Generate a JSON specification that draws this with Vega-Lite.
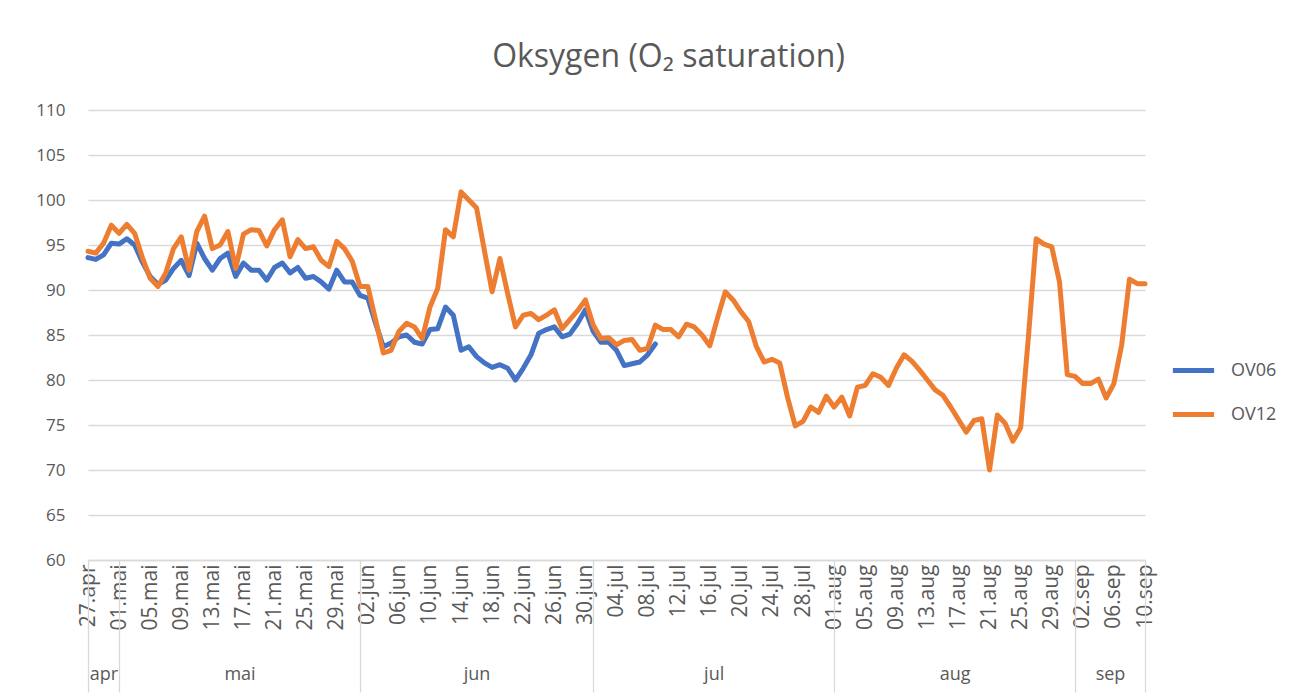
{
  "$schema": "https://vega.github.io/schema/vega-lite/v6.json",
  "width": 1057,
  "height": 450,
  "autosize": {"type": "none"},
  "padding": {"left": 88, "top": 110, "right": 171, "bottom": 136},
  "background": "white",
  "title": {
    "text": "Oksygen (O₂ saturation)",
    "font": "Open Sans",
    "fontSize": 32,
    "fontWeight": "normal",
    "color": "#595959",
    "anchor": "middle",
    "frame": "group",
    "dx": 52,
    "baseline": "alphabetic",
    "offset": 2
  },
  "config": {"view": {"stroke": null}, "font": "Open Sans"},
  "resolve": {"axis": {"x": "independent"}},
  "layer": [
    {
      "data": {"values": [
        {"d":"2021-04-27","OV06":93.6,"OV12":94.3},
        {"d":"2021-04-28","OV06":93.4,"OV12":94.1},
        {"d":"2021-04-29","OV06":93.9,"OV12":95.2},
        {"d":"2021-04-30","OV06":95.2,"OV12":97.2},
        {"d":"2021-05-01","OV06":95.1,"OV12":96.3},
        {"d":"2021-05-02","OV06":95.7,"OV12":97.3},
        {"d":"2021-05-03","OV06":95.0,"OV12":96.3},
        {"d":"2021-05-04","OV06":93.1,"OV12":93.6},
        {"d":"2021-05-05","OV06":91.5,"OV12":91.3},
        {"d":"2021-05-06","OV06":90.6,"OV12":90.4},
        {"d":"2021-05-07","OV06":91.1,"OV12":91.9},
        {"d":"2021-05-08","OV06":92.4,"OV12":94.6},
        {"d":"2021-05-09","OV06":93.3,"OV12":95.9},
        {"d":"2021-05-10","OV06":91.6,"OV12":92.2},
        {"d":"2021-05-11","OV06":95.2,"OV12":96.5},
        {"d":"2021-05-12","OV06":93.5,"OV12":98.2},
        {"d":"2021-05-13","OV06":92.2,"OV12":94.6},
        {"d":"2021-05-14","OV06":93.5,"OV12":95.0},
        {"d":"2021-05-15","OV06":94.1,"OV12":96.5},
        {"d":"2021-05-16","OV06":91.5,"OV12":92.4},
        {"d":"2021-05-17","OV06":93.0,"OV12":96.2},
        {"d":"2021-05-18","OV06":92.2,"OV12":96.7},
        {"d":"2021-05-19","OV06":92.2,"OV12":96.6},
        {"d":"2021-05-20","OV06":91.1,"OV12":94.9},
        {"d":"2021-05-21","OV06":92.5,"OV12":96.7},
        {"d":"2021-05-22","OV06":93.0,"OV12":97.8},
        {"d":"2021-05-23","OV06":91.9,"OV12":93.7},
        {"d":"2021-05-24","OV06":92.5,"OV12":95.6},
        {"d":"2021-05-25","OV06":91.3,"OV12":94.6},
        {"d":"2021-05-26","OV06":91.5,"OV12":94.8},
        {"d":"2021-05-27","OV06":90.9,"OV12":93.3},
        {"d":"2021-05-28","OV06":90.1,"OV12":92.6},
        {"d":"2021-05-29","OV06":92.2,"OV12":95.4},
        {"d":"2021-05-30","OV06":90.9,"OV12":94.6},
        {"d":"2021-05-31","OV06":90.9,"OV12":93.2},
        {"d":"2021-06-01","OV06":89.4,"OV12":90.4},
        {"d":"2021-06-02","OV06":89.1,"OV12":90.4},
        {"d":"2021-06-03","OV06":86.3,"OV12":86.7},
        {"d":"2021-06-04","OV06":83.7,"OV12":83.0},
        {"d":"2021-06-05","OV06":84.1,"OV12":83.3},
        {"d":"2021-06-06","OV06":84.8,"OV12":85.4},
        {"d":"2021-06-07","OV06":85.0,"OV12":86.3},
        {"d":"2021-06-08","OV06":84.2,"OV12":85.9},
        {"d":"2021-06-09","OV06":84.0,"OV12":84.6},
        {"d":"2021-06-10","OV06":85.6,"OV12":88.1},
        {"d":"2021-06-11","OV06":85.7,"OV12":90.2},
        {"d":"2021-06-12","OV06":88.1,"OV12":96.7},
        {"d":"2021-06-13","OV06":87.2,"OV12":95.9},
        {"d":"2021-06-14","OV06":83.3,"OV12":100.9},
        {"d":"2021-06-15","OV06":83.7,"OV12":100.0},
        {"d":"2021-06-16","OV06":82.6,"OV12":99.1},
        {"d":"2021-06-17","OV06":81.9,"OV12":94.4},
        {"d":"2021-06-18","OV06":81.4,"OV12":89.8},
        {"d":"2021-06-19","OV06":81.7,"OV12":93.5},
        {"d":"2021-06-20","OV06":81.3,"OV12":89.6},
        {"d":"2021-06-21","OV06":80.0,"OV12":85.9},
        {"d":"2021-06-22","OV06":81.3,"OV12":87.2},
        {"d":"2021-06-23","OV06":82.8,"OV12":87.4},
        {"d":"2021-06-24","OV06":85.2,"OV12":86.7},
        {"d":"2021-06-25","OV06":85.6,"OV12":87.2},
        {"d":"2021-06-26","OV06":85.9,"OV12":87.8},
        {"d":"2021-06-27","OV06":84.8,"OV12":85.7},
        {"d":"2021-06-28","OV06":85.1,"OV12":86.7},
        {"d":"2021-06-29","OV06":86.3,"OV12":87.7},
        {"d":"2021-06-30","OV06":87.8,"OV12":88.9},
        {"d":"2021-07-01","OV06":85.4,"OV12":86.1},
        {"d":"2021-07-02","OV06":84.2,"OV12":84.6},
        {"d":"2021-07-03","OV06":84.2,"OV12":84.7},
        {"d":"2021-07-04","OV06":83.3,"OV12":83.9},
        {"d":"2021-07-05","OV06":81.6,"OV12":84.4},
        {"d":"2021-07-06","OV06":81.8,"OV12":84.5},
        {"d":"2021-07-07","OV06":82.0,"OV12":83.3},
        {"d":"2021-07-08","OV06":82.8,"OV12":83.5},
        {"d":"2021-07-09","OV06":84.0,"OV12":86.1},
        {"d":"2021-07-10","OV12":85.6},
        {"d":"2021-07-11","OV12":85.6},
        {"d":"2021-07-12","OV12":84.8},
        {"d":"2021-07-13","OV12":86.2},
        {"d":"2021-07-14","OV12":85.9},
        {"d":"2021-07-15","OV12":85.0},
        {"d":"2021-07-16","OV12":83.8},
        {"d":"2021-07-17","OV12":86.9},
        {"d":"2021-07-18","OV12":89.8},
        {"d":"2021-07-19","OV12":88.9},
        {"d":"2021-07-20","OV12":87.6},
        {"d":"2021-07-21","OV12":86.5},
        {"d":"2021-07-22","OV12":83.7},
        {"d":"2021-07-23","OV12":82.0},
        {"d":"2021-07-24","OV12":82.3},
        {"d":"2021-07-25","OV12":81.9},
        {"d":"2021-07-26","OV12":78.1},
        {"d":"2021-07-27","OV12":74.9},
        {"d":"2021-07-28","OV12":75.4},
        {"d":"2021-07-29","OV12":77.0},
        {"d":"2021-07-30","OV12":76.4},
        {"d":"2021-07-31","OV12":78.2},
        {"d":"2021-08-01","OV12":77.0},
        {"d":"2021-08-02","OV12":78.1},
        {"d":"2021-08-03","OV12":76.0},
        {"d":"2021-08-04","OV12":79.2},
        {"d":"2021-08-05","OV12":79.4},
        {"d":"2021-08-06","OV12":80.7},
        {"d":"2021-08-07","OV12":80.3},
        {"d":"2021-08-08","OV12":79.4},
        {"d":"2021-08-09","OV12":81.3},
        {"d":"2021-08-10","OV12":82.8},
        {"d":"2021-08-11","OV12":82.1},
        {"d":"2021-08-12","OV12":81.1},
        {"d":"2021-08-13","OV12":80.0},
        {"d":"2021-08-14","OV12":78.9},
        {"d":"2021-08-15","OV12":78.3},
        {"d":"2021-08-16","OV12":77.0},
        {"d":"2021-08-17","OV12":75.6},
        {"d":"2021-08-18","OV12":74.2},
        {"d":"2021-08-19","OV12":75.5},
        {"d":"2021-08-20","OV12":75.7},
        {"d":"2021-08-21","OV12":70.0},
        {"d":"2021-08-22","OV12":76.1},
        {"d":"2021-08-23","OV12":75.2},
        {"d":"2021-08-24","OV12":73.2},
        {"d":"2021-08-25","OV12":74.7},
        {"d":"2021-08-26","OV12":84.8},
        {"d":"2021-08-27","OV12":95.7},
        {"d":"2021-08-28","OV12":95.1},
        {"d":"2021-08-29","OV12":94.8},
        {"d":"2021-08-30","OV12":90.9},
        {"d":"2021-08-31","OV12":80.6},
        {"d":"2021-09-01","OV12":80.4},
        {"d":"2021-09-02","OV12":79.6},
        {"d":"2021-09-03","OV12":79.6},
        {"d":"2021-09-04","OV12":80.1},
        {"d":"2021-09-05","OV12":78.0},
        {"d":"2021-09-06","OV12":79.6},
        {"d":"2021-09-07","OV12":83.9},
        {"d":"2021-09-08","OV12":91.2},
        {"d":"2021-09-09","OV12":90.7},
        {"d":"2021-09-10","OV12":90.7}
      ]},
      "transform": [
        {"fold": ["OV06", "OV12"], "as": ["series", "value"]},
        {"filter": "isValid(datum.value)"}
      ],
      "mark": {"type": "line", "strokeWidth": 5, "strokeCap": "round", "strokeJoin": "round"},
      "encoding": {
        "x": {
          "field": "d",
          "type": "temporal",
          "scale": {
            "type": "utc",
            "nice": false,
            "domain": [
              {"year": 2021, "month": 4, "date": 27, "utc": true},
              {"year": 2021, "month": 9, "date": 10, "utc": true}
            ]
          },
          "axis": {
            "orient": "bottom",
            "title": null,
            "grid": false,
            "ticks": false,
            "tickSize": 0,
            "domain": true,
            "domainColor": "#d9d9d9",
            "domainWidth": 1.3,
            "labelAngle": 270,
            "labelAlign": "right",
            "labelBaseline": "middle",
            "labelPadding": 4,
            "labelFont": "Open Sans",
            "labelFontSize": 21,
            "labelColor": "#595959",
            "labelOverlap": false,
            "labelFlush": false,
            "labelBound": false,
            "values": [
              {"year": 2021, "month": 4, "date": 27, "utc": true},
              {"year": 2021, "month": 5, "date": 1, "utc": true},
              {"year": 2021, "month": 5, "date": 5, "utc": true},
              {"year": 2021, "month": 5, "date": 9, "utc": true},
              {"year": 2021, "month": 5, "date": 13, "utc": true},
              {"year": 2021, "month": 5, "date": 17, "utc": true},
              {"year": 2021, "month": 5, "date": 21, "utc": true},
              {"year": 2021, "month": 5, "date": 25, "utc": true},
              {"year": 2021, "month": 5, "date": 29, "utc": true},
              {"year": 2021, "month": 6, "date": 2, "utc": true},
              {"year": 2021, "month": 6, "date": 6, "utc": true},
              {"year": 2021, "month": 6, "date": 10, "utc": true},
              {"year": 2021, "month": 6, "date": 14, "utc": true},
              {"year": 2021, "month": 6, "date": 18, "utc": true},
              {"year": 2021, "month": 6, "date": 22, "utc": true},
              {"year": 2021, "month": 6, "date": 26, "utc": true},
              {"year": 2021, "month": 6, "date": 30, "utc": true},
              {"year": 2021, "month": 7, "date": 4, "utc": true},
              {"year": 2021, "month": 7, "date": 8, "utc": true},
              {"year": 2021, "month": 7, "date": 12, "utc": true},
              {"year": 2021, "month": 7, "date": 16, "utc": true},
              {"year": 2021, "month": 7, "date": 20, "utc": true},
              {"year": 2021, "month": 7, "date": 24, "utc": true},
              {"year": 2021, "month": 7, "date": 28, "utc": true},
              {"year": 2021, "month": 8, "date": 1, "utc": true},
              {"year": 2021, "month": 8, "date": 5, "utc": true},
              {"year": 2021, "month": 8, "date": 9, "utc": true},
              {"year": 2021, "month": 8, "date": 13, "utc": true},
              {"year": 2021, "month": 8, "date": 17, "utc": true},
              {"year": 2021, "month": 8, "date": 21, "utc": true},
              {"year": 2021, "month": 8, "date": 25, "utc": true},
              {"year": 2021, "month": 8, "date": 29, "utc": true},
              {"year": 2021, "month": 9, "date": 2, "utc": true},
              {"year": 2021, "month": 9, "date": 6, "utc": true},
              {"year": 2021, "month": 9, "date": 10, "utc": true}
            ],
            "labelExpr": "utcFormat(datum.value, '%d') + '.' + ['jan','feb','mar','apr','mai','jun','jul','aug','sep','okt','nov','des'][utcmonth(datum.value)]"
          }
        },
        "y": {
          "field": "value",
          "type": "quantitative",
          "scale": {"domain": [60, 110], "nice": false, "zero": false},
          "axis": {
            "title": null,
            "values": [60, 65, 70, 75, 80, 85, 90, 95, 100, 105, 110],
            "ticks": false,
            "domain": false,
            "grid": true,
            "gridColor": "#d9d9d9",
            "gridWidth": 1.3,
            "labelPadding": 23,
            "labelFont": "Open Sans",
            "labelFontSize": 17,
            "labelColor": "#595959"
          }
        },
        "color": {
          "field": "series",
          "type": "nominal",
          "scale": {"domain": ["OV06", "OV12"], "range": ["#4472C4", "#ED7D31"]},
          "legend": {
            "title": null,
            "orient": "none",
            "legendX": 1082,
            "legendY": 237,
            "symbolType": "stroke",
            "symbolSize": 1700,
            "symbolStrokeWidth": 5,
            "rowPadding": 10,
            "labelOffset": 14,
            "labelFont": "Open Sans",
            "labelFontSize": 18,
            "labelColor": "#595959"
          }
        }
      }
    },
    {
      "data": {"name": "months", "values": [
        {"m": "apr", "mid": "2021-04-29T00:00:00Z"},
        {"m": "mai", "mid": "2021-05-16T12:00:00Z"},
        {"m": "jun", "mid": "2021-06-16T00:00:00Z"},
        {"m": "jul", "mid": "2021-07-16T12:00:00Z"},
        {"m": "aug", "mid": "2021-08-16T12:00:00Z"},
        {"m": "sep", "mid": "2021-09-05T12:00:00Z"}
      ]},
      "mark": {"type": "text", "opacity": 0},
      "encoding": {
        "text": {"field": "m"},
        "x": {
          "field": "mid",
          "type": "temporal",
          "scale": {
            "type": "utc",
            "nice": false,
            "domain": [
              {"year": 2021, "month": 4, "date": 27, "utc": true},
              {"year": 2021, "month": 9, "date": 10, "utc": true}
            ]
          },
          "axis": {
            "orient": "bottom",
            "title": null,
            "grid": false,
            "domain": false,
            "labels": false,
            "ticks": true,
            "tickSize": 132,
            "tickColor": "#d9d9d9",
            "tickWidth": 1.3,
            "values": [
              {"year": 2021, "month": 4, "date": 27, "utc": true},
              {"year": 2021, "month": 5, "date": 1, "utc": true},
              {"year": 2021, "month": 6, "date": 1, "utc": true},
              {"year": 2021, "month": 7, "date": 1, "utc": true},
              {"year": 2021, "month": 8, "date": 1, "utc": true},
              {"year": 2021, "month": 9, "date": 1, "utc": true},
              {"year": 2021, "month": 9, "date": 10, "utc": true}
            ]
          }
        }
      }
    },
    {
      "data": {"name": "months"},
      "mark": {"type": "text", "opacity": 0},
      "encoding": {
        "text": {"field": "m"},
        "x": {
          "field": "mid",
          "type": "temporal",
          "scale": {
            "type": "utc",
            "nice": false,
            "domain": [
              {"year": 2021, "month": 4, "date": 27, "utc": true},
              {"year": 2021, "month": 9, "date": 10, "utc": true}
            ]
          },
          "axis": {
            "orient": "bottom",
            "title": null,
            "grid": false,
            "domain": false,
            "ticks": false,
            "tickSize": 0,
            "labelPadding": 105,
            "labelAngle": 0,
            "labelAlign": "center",
            "labelBaseline": "top",
            "labelFont": "Open Sans",
            "labelFontSize": 18,
            "labelColor": "#595959",
            "labelOverlap": false,
            "labelFlush": false,
            "labelBound": false,
            "values": [
              {"year": 2021, "month": 4, "date": 29, "utc": true},
              {"year": 2021, "month": 5, "date": 16, "hours": 12, "utc": true},
              {"year": 2021, "month": 6, "date": 16, "utc": true},
              {"year": 2021, "month": 7, "date": 16, "hours": 12, "utc": true},
              {"year": 2021, "month": 8, "date": 16, "hours": 12, "utc": true},
              {"year": 2021, "month": 9, "date": 5, "hours": 12, "utc": true}
            ],
            "labelExpr": "['jan','feb','mar','apr','mai','jun','jul','aug','sep','okt','nov','des'][utcmonth(datum.value)]"
          }
        }
      }
    }
  ]
}
